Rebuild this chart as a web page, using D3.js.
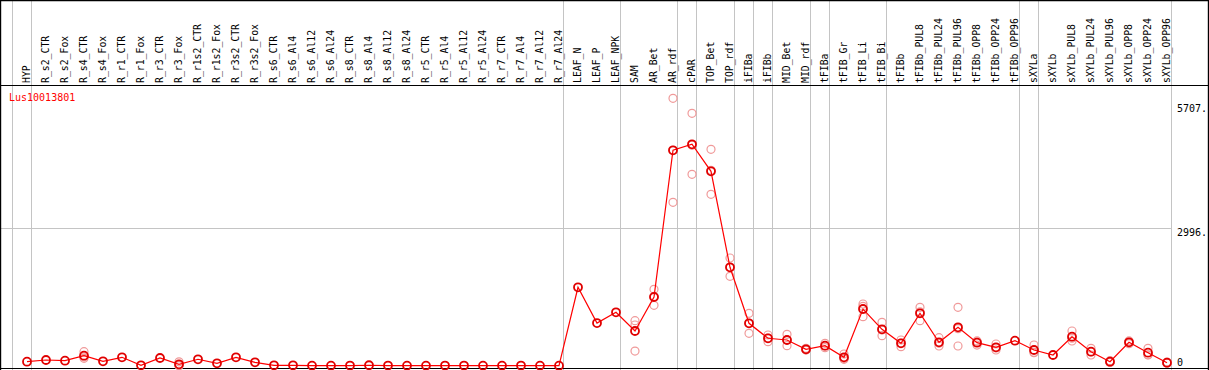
<!DOCTYPE html>
<html>
<head>
<meta charset="utf-8">
<script src="https://cdn.jsdelivr.net/npm/d3@7"></script>
<style>
  body { margin: 0; background: #fff; }
  svg { display: block; font-family: "DejaVu Sans Mono", monospace; }
</style>
</head>
<body>
<svg id="chart" width="1209" height="370"></svg>
<script>
const geneName = 'Lus10013801';

const samples = [
  'HYP', 'R_s2_CTR', 'R_s2_Fox', 'R_s4_CTR', 'R_s4_Fox', 'R_r1_CTR', 'R_r1_Fox', 'R_r3_CTR', 'R_r3_Fox',
  'R_r1s2_CTR', 'R_r1s2_Fox', 'R_r3s2_CTR', 'R_r3s2_Fox', 'R_s6_CTR', 'R_s6_Al4', 'R_s6_Al12', 'R_s6_Al24',
  'R_s8_CTR', 'R_s8_Al4', 'R_s8_Al12', 'R_s8_Al24', 'R_r5_CTR', 'R_r5_Al4', 'R_r5_Al12', 'R_r5_Al24',
  'R_r7_CTR', 'R_r7_Al4', 'R_r7_Al12', 'R_r7_Al24', 'LEAF_N', 'LEAF_P', 'LEAF_NPK', 'SAM', 'AR_Bet', 'AR_rdf',
  'cPAR', 'TOP_Bet', 'TOP_rdf', 'iFIBa', 'iFIBb', 'MID_Bet', 'MID_rdf', 'tFIBa', 'tFIB_Gr', 'tFIB_Li', 'tFIB_Bi',
  'tFIBb', 'tFIBb_PUL8', 'tFIBb_PUL24', 'tFIBb_PUL96', 'tFIBb_OPP8', 'tFIBb_OPP24', 'tFIBb_OPP96',
  'sXYLa', 'sXYLb', 'sXYLb_PUL8', 'sXYLb_PUL24', 'sXYLb_PUL96', 'sXYLb_OPP8', 'sXYLb_OPP24', 'sXYLb_OPP96'
];

// mean expression per sample
const means = [
  87, 124, 109, 218, 96, 183, 9, 168, 30, 140, 52, 183, 74, 9, 8,
  2, 2, 3, 10, 3, 2, 2, 3, 3, 2, 2, 3, 2, 0,
  1710, 930, 1165,
  757, 1498, 4698, 4829, 4240, 2146, 925, 598, 560, 358, 436, 183, 1237, 794,
  489, 1143, 510, 837, 502, 401, 545, 342, 233, 632, 305, 87, 510, 284, 65
];

// individual replicates (pink circles), same order as samples
const replicates = [
  [], [], [], [305, 161, 190], [], [], [], [], [85, 5, 0], [], [], [], [], [], [],
  [], [], [], [], [], [], [], [], [], [], [], [], [], [],
  [], [], [],
  [981, 888, 320], [1666, 1317, 1510], [5832, 3564, 4698], [5505, 4174, 4808], [4720, 3738, 4262],
  [2349, 1950, 2140], [1143, 707, 925], [670, 523, 600], [685, 436, 560], [380, 340, 355],
  [489, 393, 430], [255, 140, 155], [1346, 1069, 1296], [947, 654, 780],
  [560, 414, 493], [1274, 981, 1174], [611, 430, 490], [1274, 430, 807], [540, 450, 516],
  [473, 342, 388], [], [451, 284, 291], [], [757, 539, 600], [380, 233, 302],
  [110, 70, 80], [540, 480, 510], [380, 233, 239], [80, 55, 60]
];

// last sample of each group (gray separators)
const groupEnds = ['HYP', 'R_r7_Al24', 'LEAF_NPK', 'AR_rdf', 'cPAR', 'TOP_rdf', 'iFIBa', 'iFIBb',
  'MID_rdf', 'tFIBa', 'tFIB_Bi', 'tFIBb_OPP96', 'sXYLa', 'sXYLb_OPP96'];

const tickValues = [0, 2996, 5707];
const tickLabels = ['0', '2996.', '5707.'];
const gridValues = [2996];

(function renderChart() {
  const svg = d3.select('#chart');
  const W = 1209, H = 370;
  const headerY = 85.5, bottomY = 368.5, plotRight = 1171;

  const x = d3.scalePoint().domain(samples).range([27, 27 + 19 * (samples.length - 1)]);
  const y = d3.scaleLinear().domain([0, 6100]).range([365.7, 86]);
  const sepOff = 3.7;

  // gray separators
  const seps = [x(samples[0]) - x.step() + sepOff].concat(groupEnds.map(s => x(s) + sepOff));
  svg.selectAll('.sep').data(seps).enter().append('line')
    .attr('x1', d => Math.round(d) + 0.5).attr('x2', d => Math.round(d) + 0.5)
    .attr('y1', 0).attr('y2', H)
    .attr('stroke', '#c4c4c4').attr('stroke-width', 1);

  svg.selectAll('.grid').data(gridValues).enter().append('line')
    .attr('x1', 0).attr('x2', Math.round(plotRight) + 0.5)
    .attr('y1', d => Math.round(y(d)) + 0.5).attr('y2', d => Math.round(y(d)) + 0.5)
    .attr('stroke', '#c4c4c4').attr('stroke-width', 1);

  // frame
  const frame = svg.append('g').attr('stroke', '#000').attr('stroke-width', 1.2);
  frame.append('line').attr('x1', 0).attr('x2', W).attr('y1', 0.6).attr('y2', 0.6);
  frame.append('line').attr('x1', 0).attr('x2', W).attr('y1', headerY).attr('y2', headerY);
  frame.append('line').attr('x1', 0).attr('x2', W).attr('y1', bottomY).attr('y2', bottomY);
  frame.append('line').attr('x1', 0.6).attr('x2', 0.6).attr('y1', 0).attr('y2', H);
  frame.append('line').attr('x1', W - 0.6).attr('x2', W - 0.6).attr('y1', 0).attr('y2', H);

  // sample labels
  svg.selectAll('.lab').data(samples).enter().append('text')
    .attr('transform', d => `translate(${x(d) + 3},83) rotate(-90)`)
    .attr('font-size', 9.8).attr('fill', '#000')
    .text(d => d);

  // y tick labels
  svg.selectAll('.tick').data(tickValues).enter().append('text')
    .attr('x', 1177)
    .attr('y', (d, i) => d === 0 ? y(d) : y(d) + 7.5)
    .attr('font-size', 10).attr('fill', '#000')
    .text((d, i) => tickLabels[i]);

  svg.append('text').attr('x', 9).attr('y', 101)
    .attr('font-size', 10).attr('fill', '#f00').text(geneName);

  // replicates
  const reps = [];
  replicates.forEach((r, i) => r.forEach(v => reps.push({s: samples[i], v})));
  svg.selectAll('.rep').data(reps).enter().append('circle')
    .attr('cx', d => x(d.s)).attr('cy', d => y(d.v)).attr('r', 4)
    .attr('fill', 'none').attr('stroke', '#f09a9a').attr('stroke-width', 1.2);

  const pts = samples.map((s, i) => ({s, v: means[i]}));
  svg.append('path')
    .attr('d', d3.line().x(d => x(d.s)).y(d => y(d.v))(pts))
    .attr('fill', 'none').attr('stroke', '#f00').attr('stroke-width', 1.2);

  svg.selectAll('.pt').data(pts).enter().append('circle')
    .attr('cx', d => x(d.s)).attr('cy', d => y(d.v)).attr('r', 4)
    .attr('fill', 'none').attr('stroke', '#e00000').attr('stroke-width', 1.8);
})();
</script>
</body>
</html>
